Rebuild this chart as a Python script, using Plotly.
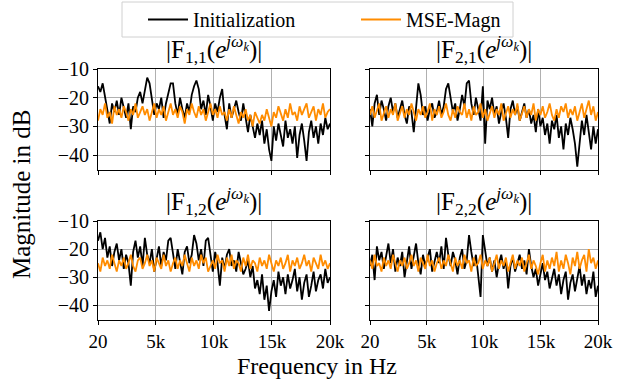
import numpy as np
import plotly.graph_objects as go

# ---------------- data ----------------
FREQ_HZ = np.linspace(20, 20000, 100)

F11_INIT = [-16, -18, -15, -20, -24, -29, -22, -25, -21, -26,
            -20, -24, -27, -22, -31, -23, -25, -20, -18, -22,
            -17, -13, -15, -20, -26, -22, -24, -20, -27, -22,
            -18, -15, -15, -22, -26, -20, -24, -27, -22, -25,
            -19, -16, -14, -17, -24, -21, -26, -19, -23, -28,
            -22, -25, -20, -17, -26, -31, -22, -27, -24, -21,
            -25, -28, -22, -27, -32, -26, -30, -34, -29, -33,
            -28, -36, -31, -38, -42, -30, -35, -29, -33, -37,
            -28, -34, -31, -36, -30, -41, -33, -29, -35, -42,
            -32, -28, -34, -30, -36, -29, -33, -27, -31, -29]
F11_MSE = [-28, -24, -26, -22, -27, -25, -29, -23, -26, -24,
           -27, -23, -25, -28, -24, -26, -22, -27, -25, -23,
           -26, -24, -28, -25, -22, -27, -24, -26, -23, -28,
           -25, -22, -26, -24, -27, -23, -25, -29, -24, -26,
           -22, -25, -27, -23, -26, -24, -28, -25, -22, -26,
           -24, -27, -23, -26, -25, -28, -24, -27, -23, -26,
           -29, -25, -27, -24, -28, -26, -30, -25, -27, -29,
           -26, -28, -24, -27, -30, -25, -27, -23, -26, -28,
           -24, -27, -22, -26, -25, -28, -23, -26, -24, -22,
           -27, -25, -23, -28, -24, -26, -22, -27, -25, -24]

F21_INIT = [-24, -30, -22, -19, -26, -21, -24, -28, -23, -20,
            -25, -22, -27, -24, -21, -26, -29, -23, -25, -32,
            -22, -15, -19, -26, -23, -28, -24, -22, -27, -25,
            -21, -26, -23, -17, -15, -20, -25, -22, -28, -24,
            -19, -23, -15, -14, -22, -26, -20, -24, -28, -16,
            -36, -21, -24, -20, -26, -23, -29, -25, -22, -27,
            -34, -24, -21, -26, -23, -28, -25, -22, -27, -24,
            -29, -26, -32, -24, -30, -27, -33, -29, -36, -28,
            -31, -26, -34, -30, -38, -29, -33, -27, -31, -36,
            -44, -35, -28, -33, -26, -32, -38, -30, -36, -31]
F21_MSE = [-26, -23, -27, -24, -22, -28, -25, -23, -27, -24,
           -26, -22, -28, -25, -23, -27, -24, -26, -22, -25,
           -28, -24, -26, -23, -27, -25, -22, -28, -24, -26,
           -23, -27, -25, -22, -26, -28, -24, -27, -23, -25,
           -26, -22, -27, -24, -28, -23, -26, -25, -22, -27,
           -24, -28, -25, -23, -27, -24, -26, -22, -28, -25,
           -23, -27, -24, -26, -22, -28, -25, -23, -27, -24,
           -26, -22, -28, -24, -26, -23, -27, -25, -22, -26,
           -28, -24, -27, -23, -25, -22, -27, -24, -26, -23,
           -28, -25, -22, -27, -24, -21, -26, -23, -28, -25]

F12_INIT = [-17, -14, -20, -16, -23, -19, -26, -21, -18, -24,
            -20, -27, -22, -25, -33, -21, -17, -23, -19, -26,
            -16, -22, -25, -20, -28, -23, -19, -26, -21, -24,
            -17, -16, -22, -27, -20, -24, -29, -21, -19, -25,
            -22, -15, -18, -24, -20, -26, -17, -16, -23, -28,
            -21, -25, -33, -23, -27, -22, -20, -26, -24, -28,
            -21, -25, -29, -27, -24, -30, -26, -34, -31, -36,
            -29, -38, -33, -42, -35, -31, -37, -28, -33, -30,
            -36, -29, -34, -31, -27, -35, -30, -38, -32, -29,
            -37, -33, -28, -35, -31, -29, -34, -27, -32, -30]
F12_MSE = [-25, -28, -23, -26, -24, -27, -22, -25, -28, -24,
           -26, -23, -27, -25, -22, -26, -28, -24, -23, -27,
           -25, -22, -26, -24, -28, -23, -25, -27, -22, -26,
           -24, -28, -25, -23, -27, -24, -26, -22, -25, -28,
           -23, -26, -24, -27, -22, -25, -23, -28, -26, -24,
           -27, -22, -25, -24, -28, -23, -26, -22, -27, -24,
           -25, -28, -23, -26, -22, -27, -24, -25, -28, -23,
           -26, -24, -27, -22, -25, -28, -24, -26, -23, -27,
           -25, -22, -28, -24, -26, -23, -27, -25, -22, -26,
           -24, -28, -23, -25, -27, -22, -26, -24, -27, -25]

F22_INIT = [-26, -22, -31, -19, -24, -21, -27, -23, -18, -25,
            -20, -28, -23, -26, -21, -30, -24, -19, -27, -22,
            -18, -25, -29, -22, -26, -23, -20, -28, -24, -21,
            -25, -19, -27, -16, -22, -26, -21, -24, -29, -23,
            -20, -27, -24, -15, -21, -26, -22, -29, -37, -15,
            -20, -26, -23, -28, -24, -30, -25, -22, -27, -24,
            -34, -26, -23, -28, -25, -22, -27, -24, -29, -20,
            -26, -30, -27, -33, -29, -25, -31, -28, -34, -30,
            -27, -33, -29, -36, -31, -28, -38, -32, -29, -35,
            -30, -26, -33, -29, -36, -31, -34, -28, -37, -33]
F22_MSE = [-24, -27, -22, -26, -25, -28, -23, -26, -24, -27,
           -22, -25, -28, -24, -26, -23, -27, -25, -22, -26,
           -24, -28, -23, -25, -27, -22, -26, -24, -28, -25,
           -23, -27, -24, -26, -22, -25, -28, -23, -26, -24,
           -27, -22, -25, -24, -28, -23, -26, -25, -22, -27,
           -24, -26, -23, -28, -25, -22, -27, -24, -26, -23,
           -28, -25, -22, -27, -24, -26, -23, -28, -25, -22,
           -27, -24, -26, -29, -25, -22, -28, -24, -27, -23,
           -26, -21, -28, -24, -27, -22, -25, -29, -23, -26,
           -21, -27, -24, -22, -28, -20, -25, -23, -27, -24]

X_TICK_VALS = [20, 5000, 10000, 15000, 20000]
X_TICK_TEXT = ["20", "5k", "10k", "15k", "20k"]
Y_TICK_VALS = [-10, -20, -30, -40]
Y_TICK_TEXT = ["\u221210", "\u221220", "\u221230", "\u221240"]

TITLES = [
    "|F<sub>1,1</sub>(<i>e</i><sup><i>jω<sub>k</sub></i></sup>)|",
    "|F<sub>2,1</sub>(<i>e</i><sup><i>jω<sub>k</sub></i></sup>)|",
    "|F<sub>1,2</sub>(<i>e</i><sup><i>jω<sub>k</sub></i></sup>)|",
    "|F<sub>2,2</sub>(<i>e</i><sup><i>jω<sub>k</sub></i></sup>)|",
]
SERIES = [(F11_INIT, F11_MSE), (F21_INIT, F21_MSE),
          (F12_INIT, F12_MSE), (F22_INIT, F22_MSE)]

# ---------------- layout geometry ----------------
W, H = 640, 380
FONT = "Liberation Serif, DejaVu Serif, serif"
X_DOMAINS = [(98 / W, 330 / W), (370 / W, 598 / W)]
Y_DOMAINS = [(1 - 170 / H, 1 - 69 / H), (1 - 320 / H, 1 - 221 / H)]
BLACK = "#000000"
ORANGE = "#ff8c00"

fig = go.Figure()
layout = dict(
    width=W, height=H,
    margin=dict(l=0, r=0, t=0, b=0, autoexpand=False),
    paper_bgcolor="white", plot_bgcolor="white",
    font=dict(family=FONT, size=18, color="black"),
    showlegend=True,
    legend=dict(orientation="h", x=143 / W, y=1.0, xanchor="left", yanchor="top",
                bordercolor="rgba(0,0,0,0)", borderwidth=0, bgcolor="rgba(0,0,0,0)",
                font=dict(family=FONT, size=20), entrywidth=158,
                itemwidth=40, tracegroupgap=0),
    shapes=[dict(type="rect", xref="paper", yref="paper",
                 x0=122 / W, x1=513 / W, y0=1 - 37 / H, y1=1 - 2 / H,
                 line=dict(color="#d0d0d0", width=1), fillcolor="white",
                 layer="below")],
)

annotations = []
for k in range(4):
    row, col = divmod(k, 2)
    ax = "" if k == 0 else str(k + 1)
    xa = "xaxis" + ax
    ya = "yaxis" + ax
    init, mse = SERIES[k]
    fig.add_trace(go.Scatter(x=FREQ_HZ, y=init, mode="lines", name="Initialization",
                             line=dict(color=BLACK, width=1.8), showlegend=(k == 0),
                             xaxis="x" + ax, yaxis="y" + ax))
    fig.add_trace(go.Scatter(x=FREQ_HZ, y=mse, mode="lines", name="MSE-Magn",
                             line=dict(color=ORANGE, width=1.8), showlegend=(k == 0),
                             xaxis="x" + ax, yaxis="y" + ax))
    layout[xa] = dict(domain=X_DOMAINS[col], anchor="y" + ax, range=[20, 20000],
                      tickvals=X_TICK_VALS, ticktext=X_TICK_TEXT,
                      showticklabels=(row == 1), ticks="outside", ticklen=4,
                      tickcolor="black", showline=True, linecolor="black",
                      linewidth=1, mirror=True, showgrid=True,
                      gridcolor="#b0b0b0", gridwidth=1, zeroline=False,
                      ticklabelstandoff=0,
                      tickfont=dict(family=FONT, size=19))
    layout[ya] = dict(domain=Y_DOMAINS[row], anchor="x" + ax, range=[-45.2, -10],
                      tickvals=Y_TICK_VALS, ticktext=Y_TICK_TEXT,
                      showticklabels=(col == 0), ticks="outside", ticklen=4,
                      tickcolor="black", showline=True, linecolor="black",
                      linewidth=1, mirror=True, showgrid=True,
                      gridcolor="#b0b0b0", gridwidth=1, zeroline=False,
                      tickfont=dict(family=FONT, size=20))
    annotations.append(dict(text=TITLES[k], xref="paper", yref="paper",
                            x=sum(X_DOMAINS[col]) / 2, y=Y_DOMAINS[row][1],
                            xanchor="center", yanchor="bottom", showarrow=False,
                            font=dict(family=FONT, size=25)))

annotations.append(dict(text="Frequency in Hz", xref="paper", yref="paper",
                        x=317 / W, y=1 - 366 / H, xanchor="center", yanchor="middle",
                        showarrow=False, font=dict(family=FONT, size=24)))
annotations.append(dict(text="Magnitude in dB", xref="paper", yref="paper",
                        x=21 / W, y=1 - 195 / H, xanchor="center", yanchor="middle",
                        textangle=-90, showarrow=False, font=dict(family=FONT, size=25)))
layout["annotations"] = annotations

fig.update_layout(**layout)
fig.write_html("out.html")
